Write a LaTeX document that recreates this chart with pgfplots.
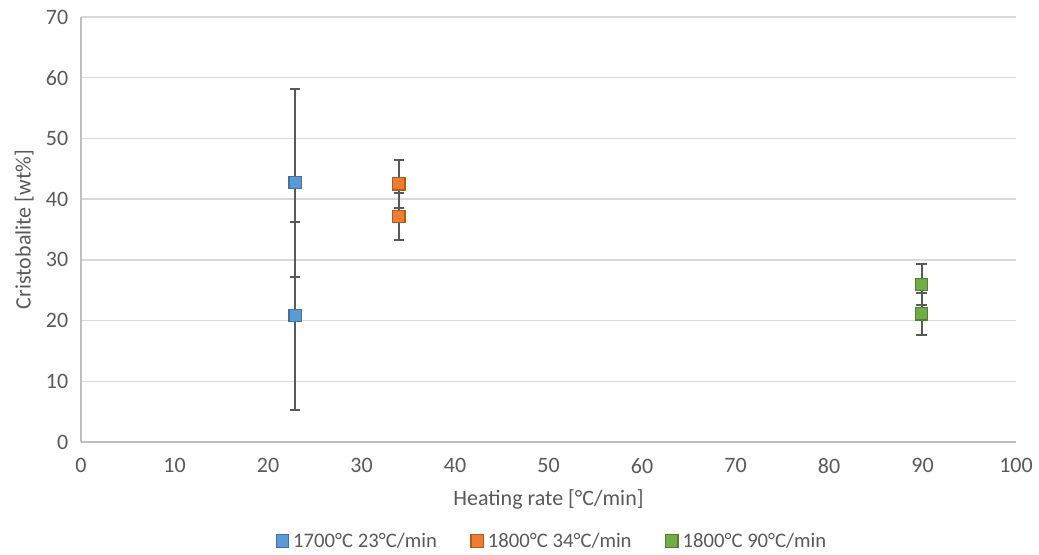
\documentclass[border=0pt]{standalone}
\usepackage{fontspec}
\setmainfont{Carlito}
\usepackage{pgfplots}
\pgfplotsset{compat=1.18}
\definecolor{cblue}{HTML}{5B9BD5}
\definecolor{cblueE}{HTML}{41719C}
\definecolor{corange}{HTML}{ED7D31}
\definecolor{corangeE}{HTML}{AE5A21}
\definecolor{cgreen}{HTML}{70AD47}
\definecolor{cgreenE}{HTML}{507E32}
\definecolor{txt}{HTML}{595959}
\definecolor{grid}{HTML}{D9D9D9}
\definecolor{axl}{HTML}{BFBFBF}
\definecolor{err}{HTML}{595959}
\begin{document}
\begin{tikzpicture}[x=1pt,y=1pt]
\useasboundingbox (-60.75pt,-84pt) rectangle (718.5pt,331.5pt);
\begin{axis}[
  at={(0pt,0pt)}, anchor=south west,
  scale only axis,
  width=701.25pt, height=318.75pt,
  xmin=0, xmax=100, ymin=0, ymax=70,
  xtick={0,10,...,100}, ytick={0,10,...,70},
  axis x line*=bottom, axis y line*=left,
  axis line style={axl, line width=1.1pt, -},
  major tick length=0pt, tick style={draw=none},
  xmajorgrids=false, ymajorgrids=true,
  y grid style={grid, line width=1.1pt},
  tick label style={font=\fontsize{16.5}{18}\selectfont, text=txt},
  /pgf/number format/assume math mode=true,
  xticklabel style={yshift=-9pt},
  yticklabel style={xshift=-6pt},
  xlabel={Heating rate [°C/min]},
  ylabel={Cristobalite [wt\%]},
  label style={font=\fontsize{16.5}{18}\selectfont, text=txt},
  xlabel style={at={(axis description cs:0.5,0)}, yshift=-32pt},
  ylabel style={at={(axis description cs:0,0.5)}, yshift=32pt},
  legend style={at={(axis description cs:0.504,-0.233)}, anchor=center,
    draw=none, fill=none, font=\fontsize{15.5}{17}\selectfont, text=txt,
    /tikz/every even column/.append style={column sep=23pt},
    /tikz/every odd column/.append style={column sep=1.5pt}},
  legend columns=3,
  legend image code/.code={\draw[#1] (0pt,0pt) -- plot coordinates {(5pt,0pt)};},
  error bars/error bar style={err, line width=1.5pt},
  error bars/error mark options={rotate=90, mark size=4pt, line width=1.5pt, err},
]
\addplot[only marks, mark=square*, mark size=4.6pt,
  mark options={fill=cblue, draw=cblueE, line width=0.9pt},
  error bars/.cd, y dir=both, y explicit]
  coordinates {(22.9,42.7) +- (0,15.5) (22.9,20.8) +- (0,15.5)};
\addlegendentry{1700°C 23°C/min}
\addplot[only marks, mark=square*, mark size=4.6pt,
  mark options={fill=corange, draw=corangeE, line width=0.9pt},
  error bars/.cd, y dir=both, y explicit]
  coordinates {(34.0,42.5) +- (0,4.0) (34.0,37.1) +- (0,3.9)};
\addlegendentry{1800°C 34°C/min}
\addplot[only marks, mark=square*, mark size=4.6pt,
  mark options={fill=cgreen, draw=cgreenE, line width=0.9pt},
  error bars/.cd, y dir=both, y explicit]
  coordinates {(89.9,25.9) +- (0,3.4) (89.9,21.1) +- (0,3.5)};
\addlegendentry{1800°C 90°C/min}
\end{axis}
\end{tikzpicture}
\end{document}
